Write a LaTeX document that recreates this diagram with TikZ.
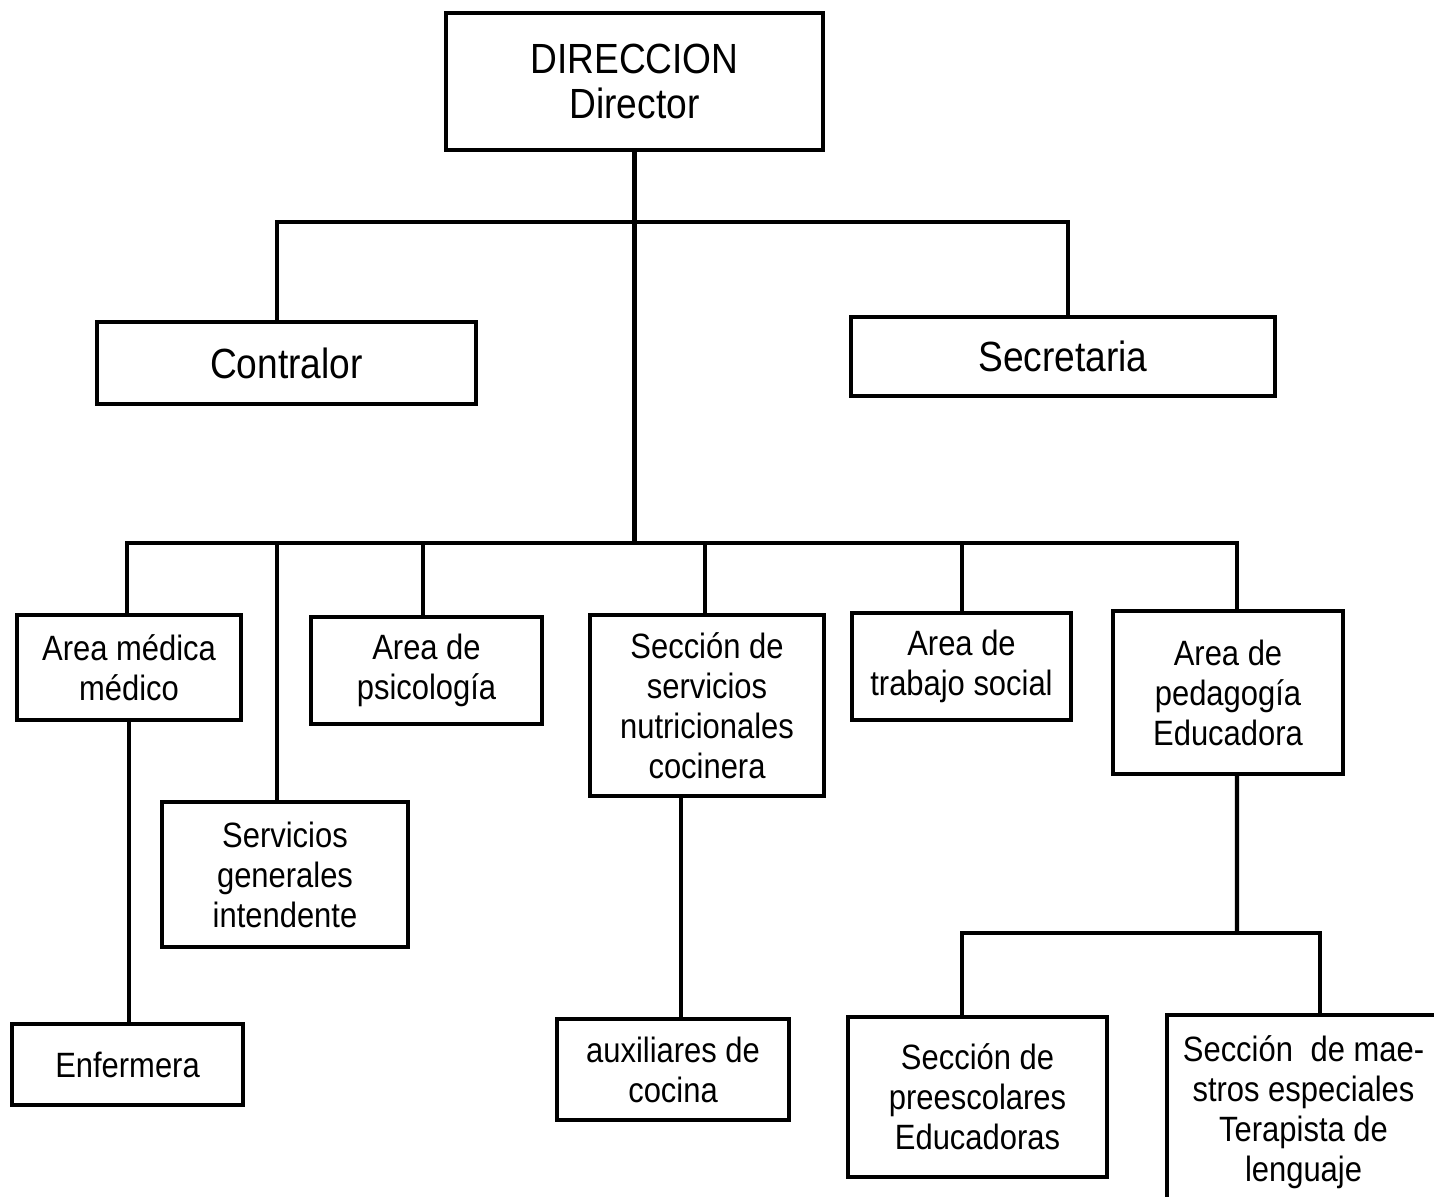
\documentclass[tikz,border=0pt]{standalone}
\usepackage{fontspec}
\setmainfont{Liberation Sans}[FakeStretch=0.88]
\usepackage{tikz}

\tikzset{
	box/.style={draw, line width=1.2pt, align=center, inner sep=2pt, font=\fontsize{10}{11.4}\selectfont},
	bigbox/.style={box, font=\fontsize{12}{12.8}\selectfont},
	link/.style={line width=1.2pt}
}

\begin{document}
\begin{tikzpicture}[x=0.01cm,y=-0.01cm]
	\clip (0,0) rectangle (1434,1196);	%page, last box runs past the edge

	%top level
	\node[bigbox, minimum width=3.77cm, minimum height=1.37cm] (dir) at (634.5,81.5) {DIRECCION\\Director};
	\node[bigbox, minimum width=3.79cm, minimum height=0.82cm] (contr) at (286.5,363) {Contralor};
	\node[bigbox, minimum width=4.24cm, minimum height=0.79cm] (secr) at (1063,356.5) {Secretaria};

	%areas
	\node[box, minimum width=2.24cm, minimum height=1.05cm] (med) at (129,667.5) {Area médica\\médico};
	\node[box, minimum width=2.31cm, minimum height=1.07cm] (psi) at (426.5,670.5) {Area de\\psicología};
	\node[box, minimum width=2.34cm, minimum height=1.81cm] (nutr) at (707,705.5) {Sección de\\servicios\\nutricionales\\cocinera};
	\node[box, minimum width=2.19cm, minimum height=1.07cm] (soc) at (961.5,666.5) {Area de\\trabajo social};
	\node[box, minimum width=2.30cm, minimum height=1.63cm] (ped) at (1228,692.5) {Area de\\pedagogía\\Educadora};
	\node[box, minimum width=2.46cm, minimum height=1.45cm] (serv) at (285,874.5) {Servicios\\generales\\intendente};

	%bottom row
	\node[box, minimum width=2.31cm, minimum height=0.81cm] (enf) at (127.5,1064.5) {Enfermera};
	\node[box, minimum width=2.32cm, minimum height=1.01cm] (aux) at (673,1069.5) {auxiliares de\\cocina};
	\node[box, minimum width=2.59cm, minimum height=1.60cm] (pre) at (977.5,1097) {Sección de\\preescolares\\Educadoras};
	\node[box, minimum width=2.73cm, minimum height=1.95cm] (esp) at (1303.5,1112.5) {Sección\enspace de mae-\\stros especiales\\Terapista de\\lenguaje};

	%buses
	\coordinate (top) at (dir.south |- 0,222);
	\coordinate (bus) at (dir.south |- 0,543);
	\coordinate (pbus) at (1237,933);

	\draw[link] (dir.south) -- (bus);
	\foreach \n/\dx in {contr/-9.5,secr/5}
		\draw[link] ([xshift=\dx*0.01cm]\n.north) |- (top);
	\foreach \n/\dx in {med/-2,serv/-8,psi/-3.5,nutr/-2,soc/0.5,ped/9}
		\draw[link] ([xshift=\dx*0.01cm]\n.north) |- (bus);	%lower bus
	\draw[link] (med.south) -- (med.south |- enf.north);
	\draw[link] ([xshift=0.08cm]aux.north) -- ([xshift=0.08cm]aux.north |- nutr.south);
	\draw[link] ([xshift=0.09cm]ped.south) -- (pbus);
	\foreach \n/\dx in {pre/-15.5,esp/16.5}
		\draw[link] ([xshift=\dx*0.01cm]\n.north) |- (pbus);
\end{tikzpicture}
\end{document}
